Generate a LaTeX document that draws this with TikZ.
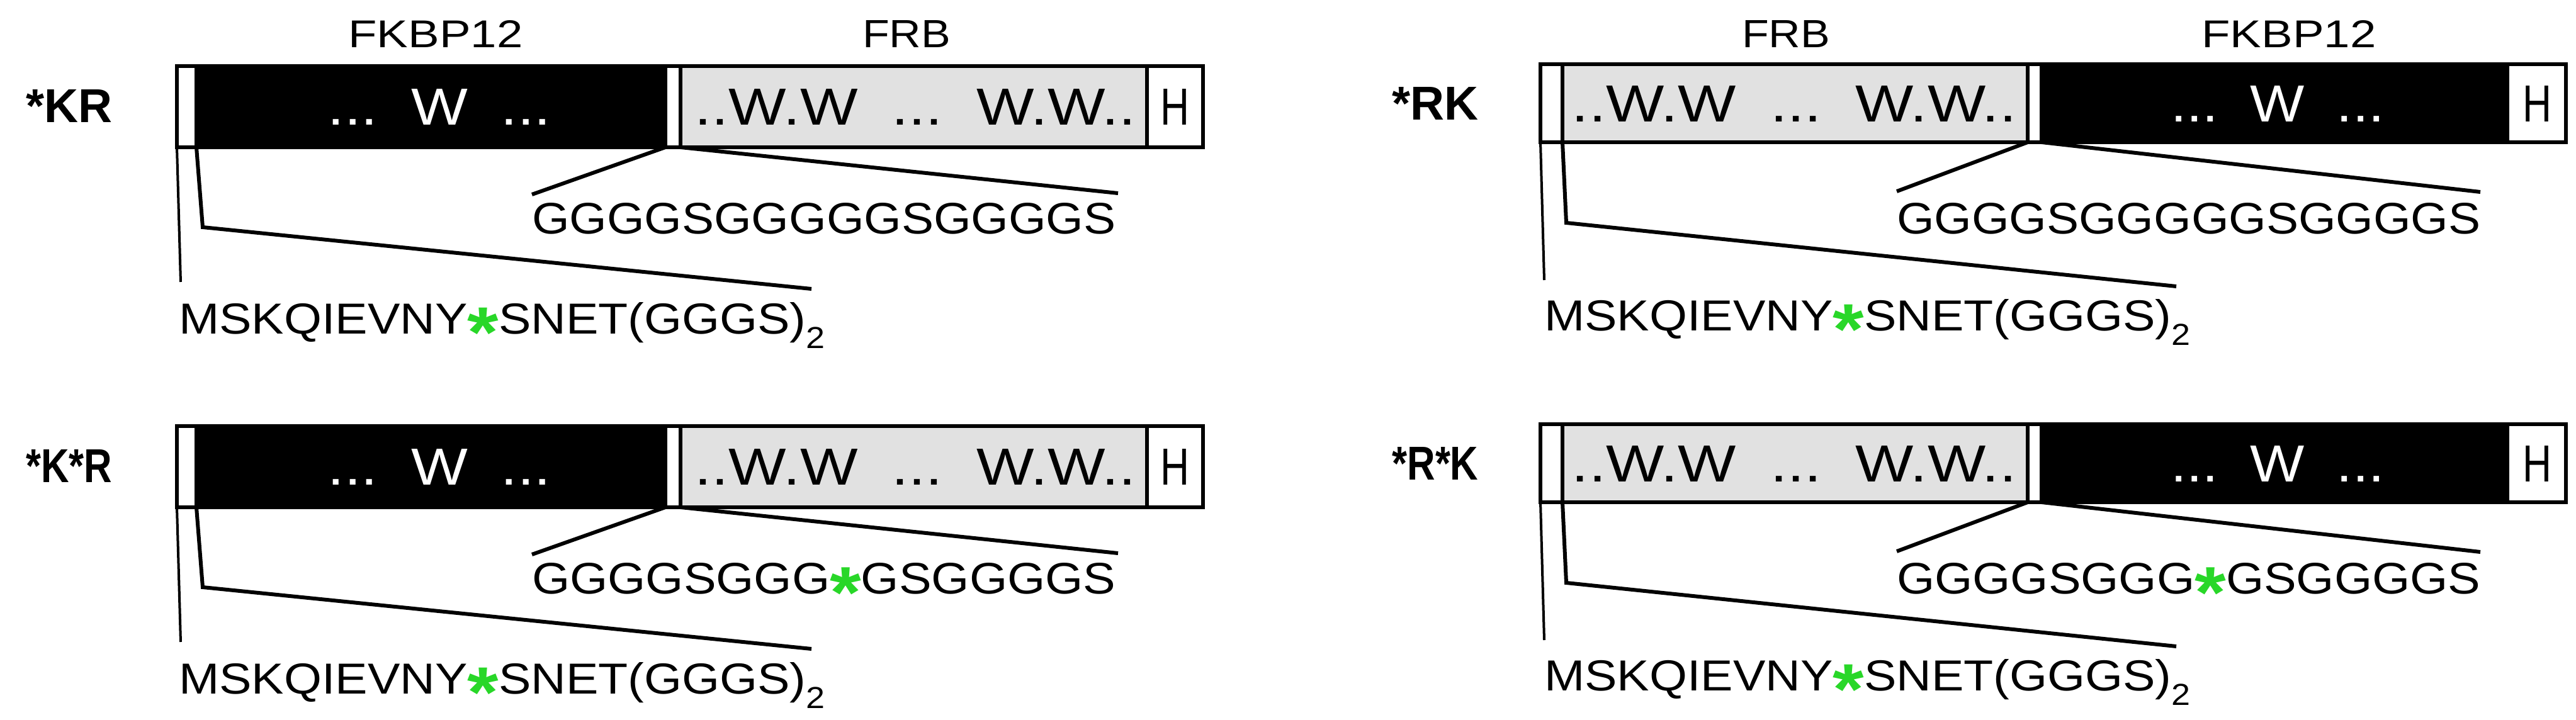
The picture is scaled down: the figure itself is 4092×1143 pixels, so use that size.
\documentclass[tikz,border=0pt]{standalone}
\usepackage{fontspec}
\setmainfont{Liberation Sans}
\usepackage{graphicx}
\definecolor{stargreen}{RGB}{40,215,40}
\definecolor{frbgrey}{RGB}{225,225,225}
\newcommand{\gstar}{{\color{stargreen}\raisebox{-0.55em}[0pt][0pt]{\scalebox{1.65}{\bfseries *}}}}
\newcommand{\fx}[3]{\resizebox{#1pt}{#2pt}{\fontsize{60}{70}\selectfont #3}}
\begin{document}
\begin{tikzpicture}[x=1pt,y=-1pt,
  dom/.style={draw=black,line width=6pt,inner sep=0pt,outer sep=0pt},
  lnk/.style={line width=6pt},
  thin/.style={line width=4pt},
  txt/.style={inner sep=0pt,anchor=base west}]
\useasboundingbox (0,0) rectangle (4092,1143);
\fill[white] (0,0) rectangle (4092,1143);

% ---------- left panels ----------
\foreach \d/\nm/\lab/\lk in {0/a/{*KR}/{GGGGSGGGGGSGGGGS},572/b/{*K*R}/{GGGGSGGG\gstar GSGGGGS}}{
  \draw[dom,fill=white] (281,105+\d) rectangle (312,234+\d);
  \draw[dom,fill=black] (312,105+\d) rectangle (1057,234+\d);
  \draw[dom,fill=white] (1057,105+\d) rectangle (1081,234+\d);
  \draw[dom,fill=frbgrey] (1081,105+\d) rectangle (1822,234+\d);
  \draw[dom,fill=white] (1822,105+\d) rectangle (1911,234+\d);
  \node[inner sep=0pt,text=white] (\nm fk) at (698,170+\d) {\fx{354}{57}{...\ \ W\ \ ...}};
  \node[inner sep=0pt] (\nm frb) at (1454,170+\d) {\fx{700}{57}{..W.W\ \ ...\ \ W.W..}};
  \node[inner sep=0pt] (\nm h) at (1866,170+\d) {\fx{46}{57}{H}};
  \node[inner sep=0pt] (\nm lab) at (110,168+\d) {\resizebox{137pt}{52pt}{\bfseries\lab}};
  \node[txt] (\nm lk) at (845,371+\d) {\fx{927}{49}{\lk}};
  \node[txt] (\nm ms) at (284,530+\d) {\fx{1027}{50}{MSKQIEVNY\gstar SNET(GGGS)\textsubscript{2}}};
  \draw[thin] (281,234+\d) -- (287,448+\d);
  \draw[lnk] (312,234+\d) -- (322,361+\d) -- (1289,459+\d);
  \draw[lnk] (1057,234+\d) -- (845,309+\d);
  \draw[lnk] (1081,234+\d) -- (1776,307+\d);
}
\node[inner sep=0pt] (h1) at (692,54) {\fx{277}{43}{FKBP12}};
\node[inner sep=0pt] (h2) at (1440,54) {\fx{140}{43}{FRB}};

% ---------- right panels ----------
\foreach \d/\nm/\lab/\lk in {0/c/{*RK}/{GGGGSGGGGGSGGGGS},572/d/{*R*K}/{GGGGSGGG\gstar GSGGGGS}}{
  \draw[dom,fill=white] (2447,102+\d) rectangle (2482,226+\d);
  \draw[dom,fill=frbgrey] (2482,102+\d) rectangle (3221,226+\d);
  \draw[dom,fill=white] (3221,102+\d) rectangle (3243,226+\d);
  \draw[dom,fill=black] (3243,102+\d) rectangle (3983,226+\d);
  \draw[dom,fill=white] (3983,102+\d) rectangle (4076,226+\d);
  \node[inner sep=0pt] (\nm frb) at (2850,165+\d) {\fx{706}{57}{..W.W\ \ ...\ \ W.W..}};
  \node[inner sep=0pt,text=white] (\nm fk) at (3618,165+\d) {\fx{340}{57}{...\ \ W\ \ ...}};
  \node[inner sep=0pt] (\nm h) at (4030,165+\d) {\fx{46}{57}{H}};
  \node[inner sep=0pt] (\nm lab) at (2280,164+\d) {\resizebox{137pt}{52pt}{\bfseries\lab}};
  \node[txt] (\nm lk) at (3013,371+\d) {\fx{927}{49}{\lk}};
  \node[txt] (\nm ms) at (2453,525+\d) {\fx{1027}{50}{MSKQIEVNY\gstar SNET(GGGS)\textsubscript{2}}};
  \draw[thin] (2447,226+\d) -- (2453,445+\d);
  \draw[lnk] (2482,226+\d) -- (2488,354+\d) -- (3457,455+\d);
  \draw[lnk] (3221,226+\d) -- (3013,304+\d);
  \draw[lnk] (3243,226+\d) -- (3940,305+\d);
}
\node[inner sep=0pt] (h3) at (2837,54) {\fx{140}{43}{FRB}};
\node[inner sep=0pt] (h4) at (3636,54) {\fx{277}{43}{FKBP12}};
\end{tikzpicture}
\end{document}
